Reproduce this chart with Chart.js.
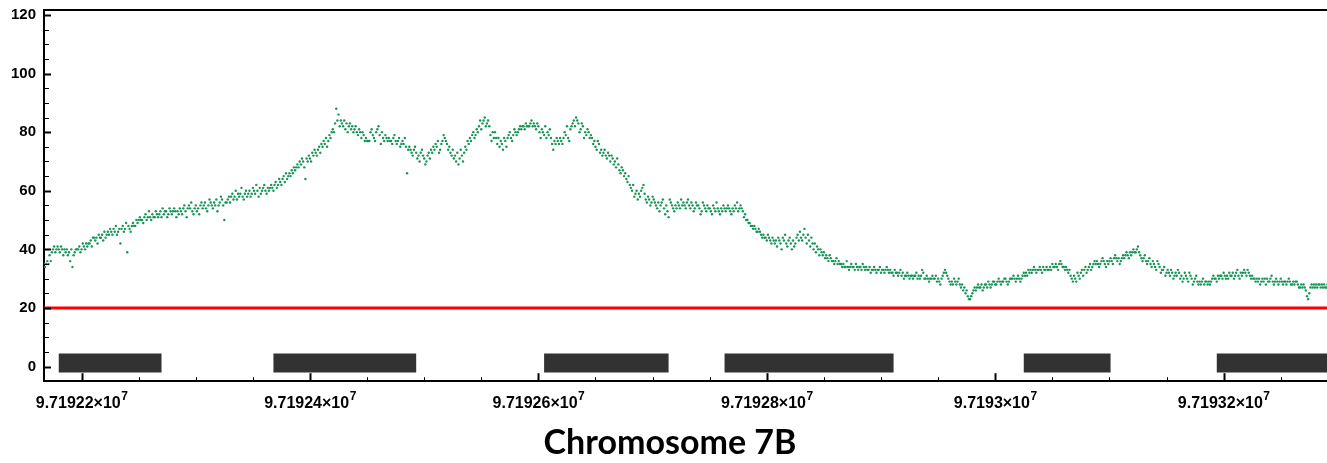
<!DOCTYPE html>
<html>
<head>
<meta charset="utf-8">
<script src="https://cdn.jsdelivr.net/npm/chart.js@4.4.1/dist/chart.umd.min.js"></script>
<style>
    html, body { margin: 0; padding: 0; background: #fff; overflow: hidden; }
    canvas { display: block; }
</style>
</head>
<body>
<canvas id="cov" width="1340" height="463"></canvas>
<script>
// read depth, one value per base, starting at xStart
const xStart = 97192167;
const depth = [
    35,34,35,36,35,38,36,39,40,41,39,40,41,40,39,41,40,38,40,39,
    40,38,39,36,40,34,38,39,40,40,40,41,39,40,42,41,40,42,41,42,
    42,43,41,44,44,43,44,42,45,44,44,45,43,46,44,45,46,45,47,46,
    45,47,46,48,45,46,47,42,47,48,46,47,49,39,48,47,46,48,49,48,
    48,50,49,50,51,50,50,49,51,52,50,51,53,51,50,52,51,51,53,52,
    51,52,53,51,54,52,53,53,51,52,54,53,52,53,54,53,51,53,52,54,
    53,52,54,55,53,51,54,55,54,56,53,52,54,55,53,54,52,55,56,54,
    55,56,54,53,55,57,56,55,54,56,55,57,53,55,56,58,57,55,50,56,
    56,57,58,56,58,59,57,58,60,57,59,58,59,61,58,57,59,60,58,59,
    60,58,59,61,60,59,62,60,58,61,59,60,61,62,60,59,61,60,61,62,
    61,60,62,63,61,62,64,63,62,64,65,63,66,64,65,66,65,67,66,68,
    67,68,69,68,70,69,71,70,68,64,71,70,72,71,70,73,72,74,73,72,
    74,75,73,76,75,77,76,78,75,77,79,78,80,81,80,83,88,84,86,82,
    84,83,82,84,81,83,80,82,83,81,82,80,81,82,80,79,81,80,78,80,
    79,77,78,77,77,77,80,81,79,78,77,80,81,82,79,76,80,78,77,79,
    78,77,78,77,77,76,78,79,77,76,77,78,75,76,77,76,78,75,66,74,
    75,74,73,72,74,75,73,71,72,70,73,74,72,71,69,70,72,73,71,74,
    73,75,74,76,75,77,73,74,76,77,79,78,77,76,74,75,73,72,74,71,
    72,70,73,69,71,74,72,70,73,75,74,77,76,78,77,79,80,78,79,81,
    80,82,84,81,83,84,85,82,83,84,82,79,77,80,78,80,78,76,78,75,
    77,76,74,78,77,75,78,79,80,78,77,79,81,80,79,80,81,82,81,82,
    82,81,83,82,82,82,83,84,82,83,82,81,83,82,80,78,81,80,79,82,
    78,80,79,81,78,76,74,77,76,78,77,76,78,77,76,78,80,79,82,78,
    77,81,82,83,84,82,85,84,83,80,81,83,82,78,80,79,81,80,78,79,
    78,76,77,75,74,77,76,73,74,72,73,74,72,71,73,72,70,72,71,69,
    70,68,71,69,67,66,68,67,65,66,64,63,65,62,61,60,62,58,59,60,
    57,59,58,60,61,62,59,57,56,58,57,55,56,58,57,56,55,54,56,53,
    55,56,57,54,52,55,53,51,57,56,55,54,53,55,54,56,55,54,57,55,
    56,55,54,56,57,55,54,56,55,53,54,56,55,55,54,52,53,56,55,54,
    53,55,54,54,53,52,55,54,53,56,54,53,52,54,53,55,54,53,54,55,
    54,53,52,54,53,55,54,56,53,54,55,54,53,51,52,50,50,49,49,48,
    48,47,48,47,46,46,47,46,45,44,45,44,44,43,45,44,43,42,44,43,
    42,43,41,44,43,42,40,44,43,45,42,41,43,44,42,40,43,41,42,44,
    45,43,46,44,43,45,47,44,42,45,43,41,44,42,40,42,39,41,40,38,
    40,39,38,39,37,38,37,36,38,37,36,36,35,36,37,35,36,35,35,34,
    35,34,34,36,34,33,34,35,34,34,33,35,34,33,34,34,33,35,34,33,
    34,33,33,34,32,33,33,34,33,32,33,33,34,32,33,33,32,33,34,33,
    32,33,32,32,31,33,32,32,31,32,33,31,32,30,31,31,32,31,30,31,
    31,30,31,31,32,30,31,30,31,33,32,30,30,31,30,29,30,30,31,30,
    30,31,29,30,29,28,30,31,32,33,32,31,30,29,28,29,28,30,29,28,
    29,30,28,27,28,26,27,25,26,24,23,23,24,25,26,27,26,27,28,27,
    27,28,26,27,28,28,27,29,28,27,28,29,29,28,28,29,30,29,28,29,
    29,30,30,29,28,29,30,30,30,31,30,29,30,31,30,29,30,31,32,31,
    32,31,33,32,33,32,33,34,33,32,33,33,34,33,32,34,33,33,34,33,
    33,34,33,35,34,34,35,34,33,35,36,35,34,34,33,34,33,32,33,31,
    30,29,31,30,29,32,31,30,32,33,31,33,34,32,33,34,35,33,34,35,
    36,35,36,35,34,35,36,37,36,35,34,36,35,36,37,36,35,37,38,37,
    36,37,35,36,37,38,37,38,39,38,37,39,38,39,40,39,39,40,41,39,
    38,37,36,37,38,36,35,36,37,35,34,36,35,34,33,36,35,34,32,33,
    33,34,31,32,33,32,31,33,32,30,31,32,31,33,32,30,31,29,30,32,
    31,30,29,32,31,30,28,29,30,31,29,28,29,28,29,30,28,29,29,28,
    29,28,29,30,31,30,30,29,31,30,31,31,30,32,31,30,31,30,32,31,
    31,32,30,31,32,33,31,30,32,31,32,33,32,31,33,32,31,30,31,30,
    30,29,30,29,30,28,29,30,29,30,28,30,29,29,30,31,29,28,29,30,
    29,28,29,30,29,28,29,29,28,29,30,29,28,28,29,28,29,29,28,27,
    27,28,27,28,27,26,24,23,25,27,28,27,28,27,28,27,28,28,27,28,
    27,28,27,27,28,27,26,27,28,27,28,28
];

// gene blocks drawn on the zero line
const blockStarts = [97192180, 97192368, 97192605, 97192763, 97193025, 97193194];
const blockEnds = [97192270, 97192493, 97192714, 97192911, 97193101, 97193330];
const blockY = 1.25;

const threshold = 20;

const xMin = 97192167.1;
const xMax = 97193298.4;
const yMin = -5;
const yMax = 121.7;

const xTickValues = [97192200, 97192400, 97192600, 97192800, 97193000, 97193200];
const xTickMantissa = ['9.71922', '9.71924', '9.71926', '9.71928', '9.7193', '9.71932'];
const xTickExponent = '7';
const yTickValues = [0, 20, 40, 60, 80, 100, 120];

const FONT = "'Liberation Sans', Arial, sans-serif";

const depthPoints = depth.map((v, i) => ({ x: xStart + i, y: v }));

const blockPoints = [];
blockStarts.forEach((s, i) => {
    blockPoints.push({ x: s, y: blockY }, { x: blockEnds[i], y: blockY }, { x: blockEnds[i] + 1, y: null });
});

// inward ticks, minor ticks and superscript x labels
const axisDecor = {
    id: 'axisDecor',
    afterDraw(chart) {
        const { ctx, chartArea: a, scales } = chart;
        const x = scales.x, y = scales.y;
        ctx.save();
        ctx.strokeStyle = '#000';
        for (let v = 0; v <= 120; v += 5) {
            const py = Math.round(y.getPixelForValue(v)) + 0.5;
            const major = v % 20 === 0;
            ctx.lineWidth = major ? 2 : 1;
            ctx.beginPath();
            ctx.moveTo(a.left, py);
            ctx.lineTo(a.left + (major ? 7 : 5), py);
            ctx.stroke();
        }
        for (let v = Math.ceil(x.min / 50) * 50; v <= x.max; v += 50) {
            const px = Math.round(x.getPixelForValue(v)) + 0.5;
            const major = (v - xTickValues[0]) % 200 === 0;
            ctx.lineWidth = major ? 2 : 1;
            ctx.beginPath();
            ctx.moveTo(px, a.bottom);
            ctx.lineTo(px, a.bottom - (major ? 8 : 4));
            ctx.stroke();
        }
        ctx.fillStyle = '#000';
        ctx.textBaseline = 'alphabetic';
        ctx.textAlign = 'left';
        xTickValues.forEach((v, i) => {
            const main = xTickMantissa[i] + '\u00d710';
            ctx.font = 'bold 16px ' + FONT;
            const w1 = ctx.measureText(main).width;
            ctx.font = 'bold 12px ' + FONT;
            const w2 = ctx.measureText(xTickExponent).width;
            const left = x.getPixelForValue(v) - (w1 + w2) / 2;
            ctx.font = 'bold 16px ' + FONT;
            ctx.fillText(main, left, a.bottom + 27);
            ctx.font = 'bold 12px ' + FONT;
            ctx.fillText(xTickExponent, left + w1 + 0.5, a.bottom + 19);
        });
        ctx.restore();
    }
};

new Chart(document.getElementById('cov'), {
    type: 'scatter',
    data: {
        datasets: [
            {
                type: 'line',
                data: blockPoints,
                borderColor: '#323232',
                borderWidth: 19,
                borderCapStyle: 'butt',
                pointRadius: 0,
                spanGaps: false,
                order: 3
            },
            {
                type: 'line',
                data: [{ x: xMin, y: threshold }, { x: xMax, y: threshold }],
                borderColor: '#ff0000',
                borderWidth: 3,
                pointRadius: 0,
                order: 2
            },
            {
                data: depthPoints,
                pointRadius: 1.2,
                pointBorderWidth: 0,
                pointBackgroundColor: '#179457',
                order: 1
            }
        ]
    },
    options: {
        responsive: false,
        animation: false,
        devicePixelRatio: 1,
        layout: { padding: { top: 10, right: 0, left: 0, bottom: 0 } },
        plugins: {
            legend: { display: false },
            tooltip: { enabled: false },
            title: {
                display: true,
                text: 'Chromosome 7B',
                position: 'bottom',
                color: '#000',
                font: { family: 'Lato', size: 34, weight: 'bold' },
                padding: { top: 3, bottom: 0 }
            }
        },
        scales: {
            x: {
                type: 'linear',
                min: xMin,
                max: xMax,
                afterBuildTicks: s => { s.ticks = xTickValues.map(v => ({ value: v })); },
                afterFit: s => { s.height = 38; },
                ticks: { display: false },
                grid: { display: false, drawTicks: false },
                border: { display: true, color: '#000', width: 2 }
            },
            x2: {
                type: 'linear',
                position: 'top',
                afterFit: s => { s.height = 0; },
                ticks: { display: false },
                grid: { display: false, drawTicks: false },
                border: { display: true, color: '#000', width: 2 }
            },
            y: {
                min: yMin,
                max: yMax,
                afterBuildTicks: s => { s.ticks = yTickValues.map(v => ({ value: v })); },
                afterFit: s => {
                    s.width = 44;
                    s.paddingTop = 0;
                    s.paddingBottom = 0;
                },
                ticks: {
                    color: '#000',
                    padding: 8,
                    font: { family: FONT, size: 15, weight: 'bold' }
                },
                grid: { display: false, drawTicks: false },
                border: { display: true, color: '#000', width: 2 }
            }
        }
    },
    plugins: [axisDecor]
});
</script>
</body>
</html>
